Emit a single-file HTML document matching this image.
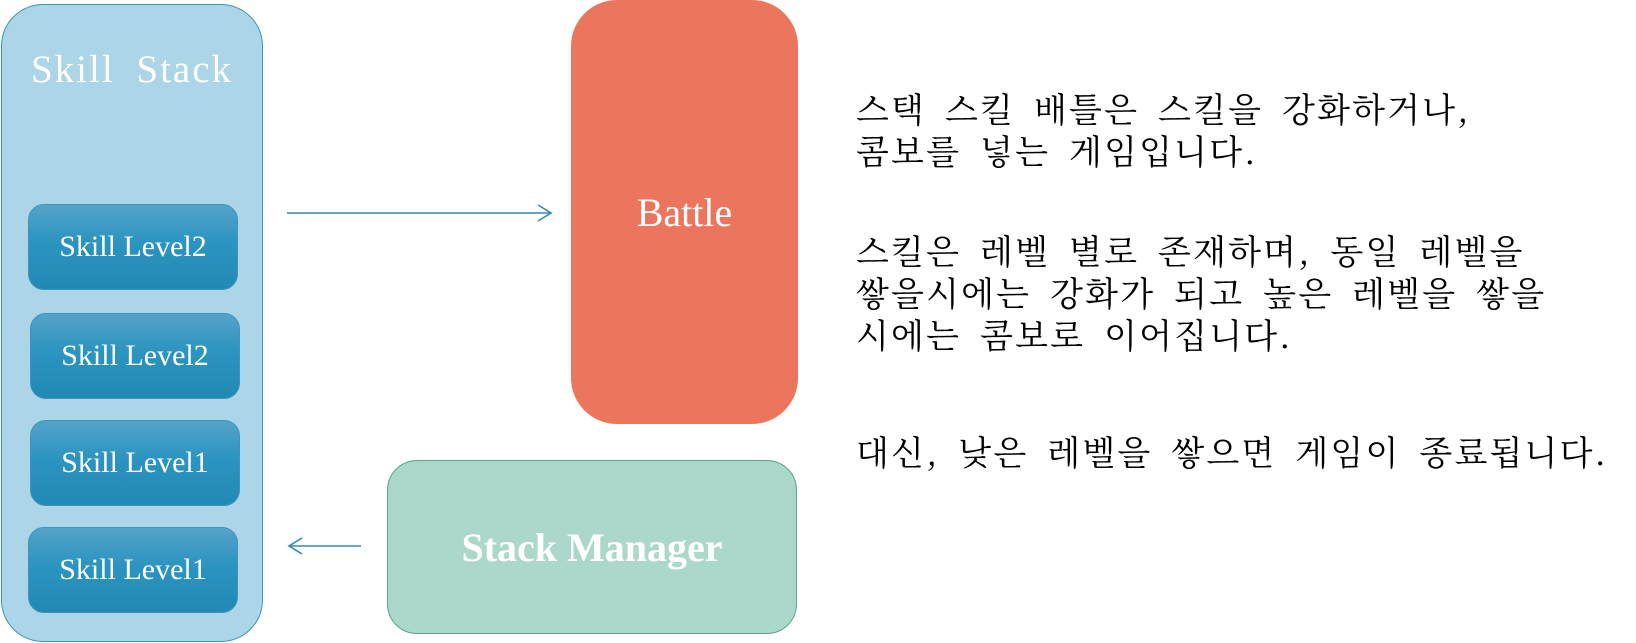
<!DOCTYPE html>
<html><head><meta charset="utf-8"><style>
body{margin:0;width:1636px;height:643px;background:#fff;position:relative;overflow:hidden;font-family:"Liberation Serif","Noto Serif CJK SC",serif}
.a{position:absolute;box-sizing:border-box;display:flex;align-items:center;justify-content:center;color:#fff}
.sk{background:linear-gradient(#55a3c9,#2b94c0 45%,#2289b3);border:1px solid #3b95bf;border-radius:16px;font-size:30px;width:210px;height:86px;left:28px}
.kr{position:absolute;left:856px;font-family:"Noto Serif CJK KR","Noto Serif CJK SC",serif;font-size:34px;line-height:42px;color:#000;white-space:nowrap;letter-spacing:2.2px;word-spacing:8px}
</style></head><body>
<div class="a" style="left:1px;top:4px;width:262px;height:638px;background:#acd5e7;border:1px solid #3b95bf;border-radius:42px;align-items:flex-start;padding-top:42px;font-size:39px;word-spacing:10px;letter-spacing:2px">Skill Stack</div>
<div class="a sk" style="top:204px">Skill Level2</div>
<div class="a sk" style="top:313px;left:30px">Skill Level2</div>
<div class="a sk" style="top:420px;left:30px">Skill Level1</div>
<div class="a sk" style="top:527px">Skill Level1</div>
<div class="a" style="left:571px;top:0;width:227px;height:424px;background:#ec755d;border-radius:46px;font-size:40px">Battle</div>
<div class="a" style="left:387px;top:460px;width:410px;height:174px;background:#acd7cb;border:1px solid #5aa58e;border-radius:30px;font-size:40px;font-weight:bold">Stack Manager</div>
<svg style="position:absolute;left:0;top:0" width="1636" height="643">
<g stroke="#2e8ab5" stroke-width="1.6" fill="none">
<line x1="287" y1="213" x2="551" y2="213"/><polyline points="538,205 551,213 538,221"/>
<line x1="361" y1="546" x2="289" y2="546"/><polyline points="302,538 289,546 302,554"/>
</g></svg>
<div class="kr" style="top:87px">스택 스킬 배틀은 스킬을 강화하거나,<br>콤보를 넣는 게임입니다.</div>
<div class="kr" style="top:229px">스킬은 레벨 별로 존재하며, 동일 레벨을<br>쌓을시에는 강화가 되고 높은 레벨을 쌓을<br>시에는 콤보로 이어집니다.</div>
<div class="kr" style="top:430px">대신, 낮은 레벨을 쌓으면 게임이 종료됩니다.</div>
</body></html>
